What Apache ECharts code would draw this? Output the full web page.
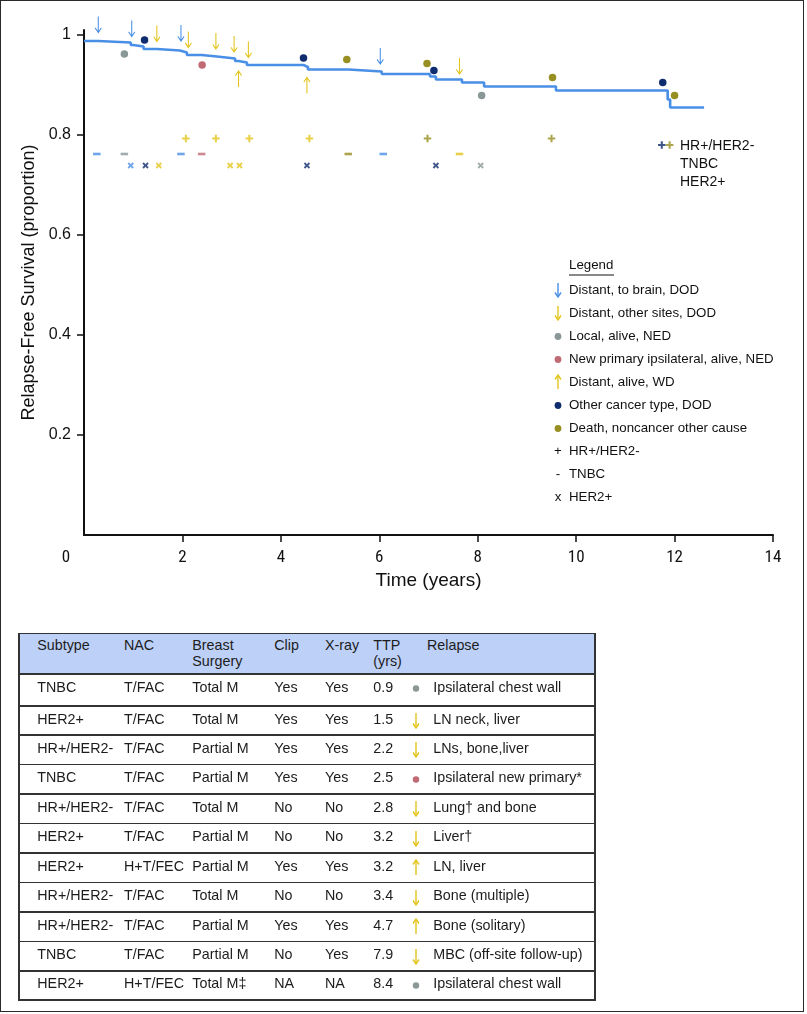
<!DOCTYPE html>
<html><head><meta charset="utf-8">
<script src="https://cdn.jsdelivr.net/npm/echarts@6/dist/echarts.min.js"></script>
<style>
html,body{margin:0;padding:0;background:#fff;}
#wrap{position:relative;width:807px;height:1014px;overflow:hidden;background:#fff;}
#chart{position:absolute;left:0;top:0;width:807px;height:1014px;}
#frame{position:absolute;left:0;top:0;width:802px;height:1010px;border:1.7px solid #2a2a2a;pointer-events:none;}
.c{position:absolute;font-family:'Liberation Sans',Arial,Helvetica,sans-serif;font-size:14.3px;color:#1c1c1c;white-space:nowrap;line-height:16px;}
.ln{position:absolute;background:#333;}
</style></head>
<body><div id="wrap"><div id="chart"></div><div id="tbl"></div><div id="frame"></div></div>
<script>
// ---------- data ----------
const kmTime = [0, 0.29, 0.95, 1.0, 1.21, 1.48, 1.95, 2.09, 2.39, 2.7, 3.07, 3.14, 3.31, 4.46, 4.55, 5.37, 6.05, 7.03, 7.15, 7.68, 8.13, 9.59, 11.86, 11.91, 12.6];
const kmSurv = [0.988, 0.985, 0.98, 0.977, 0.972, 0.969, 0.965, 0.96, 0.957, 0.953, 0.948, 0.945, 0.94, 0.936, 0.931, 0.927, 0.922, 0.917, 0.911, 0.905, 0.897, 0.889, 0.871, 0.855, 0.855];

const brainT = [0.29, 0.97, 1.97, 6.02];
const brainY = [1.02, 1.012, 1.003, 0.957];
const otherT = [1.48, 2.12, 2.68, 3.05, 3.34, 7.63];
const otherY = [1.002, 0.99, 0.987, 0.981, 0.97, 0.937];
const aliveT = [3.14, 4.53];
const aliveY = [0.913, 0.9];
const localT = [0.82, 8.08];
const localY = [0.962, 0.879];
const newprimT = [2.4];
const newprimY = [0.94];
const cancerT = [1.23, 4.46, 7.11, 11.76];
const cancerY = [0.99, 0.954, 0.929, 0.905];
const deathT = [5.34, 6.97, 9.52, 12.0];
const deathY = [0.951, 0.943, 0.915, 0.879];

// subtype marks (HR+/HER2- "+", TNBC "-", HER2+ "x"), coloured by event kind
const plusT = [2.07, 2.68, 3.36, 4.58, 6.98, 9.5, 11.74, 11.9];
const plusY = [0.793, 0.793, 0.793, 0.793, 0.793, 0.793, 0.78, 0.78];
const plusK = ['other', 'other', 'other', 'alive', 'death', 'death', 'cancer', 'death'];
const minusT = [0.26, 0.82, 1.97, 2.39, 5.37, 6.08, 7.63];
const minusY = [0.762, 0.762, 0.762, 0.762, 0.762, 0.762, 0.762];
const minusK = ['brain', 'local', 'brain', 'newprim', 'death', 'brain', 'other'];
const crossT = [0.95, 1.25, 1.52, 2.97, 3.16, 4.53, 7.15, 8.06];
const crossY = [0.739, 0.739, 0.739, 0.739, 0.739, 0.739, 0.739, 0.739];
const crossK = ['brain', 'cancer', 'other', 'other', 'alive', 'cancer', 'cancer', 'local'];

const xTicks = [0, 2, 4, 6, 8, 10, 12, 14];
const yTicks = [0.2, 0.4, 0.6, 0.8, 1.0];
const subtypeLabels = ['HR+/HER2-', 'TNBC', 'HER2+'];

const legendTitle = 'Legend';
const legendKinds = ['brain', 'other', 'local', 'newprim', 'alive', 'cancer', 'death', 'plus', 'minus', 'cross'];
const legendLabels = ['Distant, to brain, DOD', 'Distant, other sites, DOD', 'Local, alive, NED', 'New primary ipsilateral, alive, NED', 'Distant, alive, WD', 'Other cancer type, DOD', 'Death, noncancer other cause', 'HR+/HER2-', 'TNBC', 'HER2+'];

const tblHeader = ['Subtype', 'NAC', 'Breast\nSurgery', 'Clip', 'X-ray', 'TTP\n(yrs)', '', 'Relapse'];
const subtypeCol = ['TNBC', 'HER2+', 'HR+/HER2-', 'TNBC', 'HR+/HER2-', 'HER2+', 'HER2+', 'HR+/HER2-', 'HR+/HER2-', 'TNBC', 'HER2+'];
const nacCol = ['T/FAC', 'T/FAC', 'T/FAC', 'T/FAC', 'T/FAC', 'T/FAC', 'H+T/FEC', 'T/FAC', 'T/FAC', 'T/FAC', 'H+T/FEC'];
const surgeryCol = ['Total M', 'Total M', 'Partial M', 'Partial M', 'Total M', 'Partial M', 'Partial M', 'Total M', 'Partial M', 'Partial M', 'Total M\u2021'];
const clipCol = ['Yes', 'Yes', 'Yes', 'Yes', 'No', 'No', 'Yes', 'No', 'Yes', 'No', 'NA'];
const xrayCol = ['Yes', 'Yes', 'Yes', 'Yes', 'No', 'No', 'Yes', 'No', 'Yes', 'Yes', 'NA'];
const ttpCol = ['0.9', '1.5', '2.2', '2.5', '2.8', '3.2', '3.2', '3.4', '4.7', '7.9', '8.4'];
const relapseKind = ['local', 'other', 'other', 'newprim', 'other', 'other', 'alive', 'other', 'alive', 'other', 'local'];
const relapseCol = ['Ipsilateral chest wall', 'LN neck, liver', 'LNs, bone,liver', 'Ipsilateral new primary*', 'Lung\u2020 and bone', 'Liver\u2020', 'LN, liver', 'Bone (multiple)', 'Bone (solitary)', 'MBC (off-site follow-up)', 'Ipsilateral chest wall'];

// ---------- styles ----------
const COL = {brain: '#4a8fe6', other: '#e4c41c', alive: '#e4c41c', local: '#8a9797', newprim: '#c06a73', cancer: '#0f2c6e', death: '#978f22'};
const FONT = "'Liberation Sans', Arial, Helvetica, sans-serif";
const NARROW = "'Liberation Sans Narrow', 'Arial Narrow', 'Roboto Condensed', 'Liberation Sans', sans-serif";
const ARROW_DOWN = 'path://M3.4,0H4.6V14L7.2,10.8L8,11.6L4,16.8L0,11.6L0.8,10.8L3.4,14Z';
const PLUS = 'path://M2.9,0H5.1V2.9H8V5.1H5.1V8H2.9V5.1H0V2.9H2.9Z';

const zip = (a, b) => a.map((v, i) => [v, b[i]]);

function eventSeries(name, T, Y, kind, symbol, size, rotate) {
  return {
    name, type: 'scatter', clip: false, z: 5,
    data: zip(T, Y), symbol, symbolSize: size, symbolRotate: rotate || 0,
    itemStyle: {color: COL[kind], opacity: 1},
    silent: true
  };
}
function subtypeSeries(name, T, Y, K, symbol, size, rotate) {
  return {
    name, type: 'scatter', clip: false, z: 5,
    data: T.map((t, i) => ({value: [t, Y[i]], itemStyle: {color: COL[K[i]]}})),
    symbol, symbolSize: size, symbolRotate: rotate || 0, silent: true
  };
}

// ---------- legend graphics ----------
const graphic = [];
const LX = 558, LT = 569, LY0 = 290, LDY = 23;
graphic.push({type: 'text', left: LT, top: 259, style: {text: legendTitle, font: '13.3px ' + FONT, fill: '#111'}});
graphic.push({type: 'line', shape: {x1: LT, y1: 275, x2: LT + 45, y2: 275}, style: {stroke: '#111', lineWidth: 1}});
function arrowEls(x, yc, color, up) {
  const h = 14, y0 = yc - h / 2, y1 = yc + h / 2;
  const tip = up ? y0 : y1, dir = up ? 1 : -1;
  return [
    {type: 'line', shape: {x1: x, y1: y0, x2: x, y2: y1}, style: {stroke: color, lineWidth: 1.4}},
    {type: 'polyline', shape: {points: [[x - 3, tip + dir * 4.5], [x, tip], [x + 3, tip + dir * 4.5]]}, style: {stroke: color, lineWidth: 1.4, fill: null}}
  ];
}
legendKinds.forEach((k, i) => {
  const y = LY0 + i * LDY;
  if (k === 'brain' || k === 'other') graphic.push(...arrowEls(LX, y, COL[k], false));
  else if (k === 'alive') graphic.push(...arrowEls(LX, y, COL[k], true));
  else if (k === 'plus' || k === 'minus' || k === 'cross') {
    const ch = k === 'plus' ? '+' : (k === 'minus' ? '-' : 'x');
    graphic.push({type: 'text', x: LX, y: y, style: {text: ch, font: '13.3px ' + FONT, fill: '#111', align: 'center', verticalAlign: 'middle'}});
  } else graphic.push({type: 'circle', shape: {cx: LX, cy: y + 0.5, r: 3.4}, style: {fill: COL[k]}});
  graphic.push({type: 'text', x: LT, y: y, style: {text: legendLabels[i], font: '13.3px ' + FONT, fill: '#111', verticalAlign: 'middle'}});
});
subtypeLabels.forEach((s, i) => {
  graphic.push({type: 'text', x: 680, y: 146 + i * 18.2, style: {text: s, font: '14px ' + FONT, fill: '#111', verticalAlign: 'middle'}});
});

// ---------- chart ----------
const chart = echarts.init(document.getElementById('chart'));
chart.setOption({
  animation: false,
  backgroundColor: 'transparent',
  grid: {left: 84, right: 34, top: 30, bottom: 479, containLabel: false},
  xAxis: {
    type: 'value', min: 0, max: 14, interval: 2,
    name: 'Time (years)', nameLocation: 'middle', nameGap: 36,
    nameTextStyle: {fontFamily: FONT, fontSize: 19, color: '#111'},
    axisLine: {show: true, onZero: false, lineStyle: {color: '#111', width: 2}},
    axisTick: {show: true, length: 7, lineStyle: {color: '#111', width: 1.5}, customValues: [2, 4, 6, 8, 10, 12, 14]},
    axisLabel: {
      customValues: xTicks, margin: 14, fontFamily: NARROW, fontSize: 17, color: '#111',
      formatter: v => v === 0 ? '{z|0}' : String(v),
      rich: {z: {fontFamily: NARROW, fontSize: 17, color: '#111', padding: [0, 36, 0, 0]}}
    },
    splitLine: {show: false}
  },
  yAxis: {
    type: 'value', min: 0, max: 1.01,
    name: 'Relapse-Free Survival (proportion)', nameLocation: 'middle', nameGap: 36, nameRotate: 90,
    nameTextStyle: {fontFamily: FONT, fontSize: 18, color: '#111'},
    axisLine: {show: true, onZero: false, lineStyle: {color: '#111', width: 2}},
    axisTick: {show: true, length: 7, lineStyle: {color: '#111', width: 1.5}, customValues: yTicks},
    axisLabel: {
      customValues: yTicks, margin: 13, fontFamily: FONT, fontSize: 16, color: '#111',
      formatter: v => Math.abs(v - 1) < 1e-9 ? '1' : v.toFixed(1)
    },
    splitLine: {show: false}
  },
  graphic,
  series: [
    {name: 'KM', type: 'line', step: 'end', data: zip(kmTime, kmSurv), showSymbol: false, z: 3,
     lineStyle: {color: '#4a8fe6', width: 2.6}, silent: true},
    eventSeries('Distant, to brain, DOD', brainT, brainY, 'brain', ARROW_DOWN, [7, 17]),
    eventSeries('Distant, other sites, DOD', otherT, otherY, 'other', ARROW_DOWN, [7, 17]),
    eventSeries('Distant, alive, WD', aliveT, aliveY, 'alive', ARROW_DOWN, [7, 17], 180),
    eventSeries('Local, alive, NED', localT, localY, 'local', 'circle', 7.5),
    eventSeries('New primary ipsilateral, alive, NED', newprimT, newprimY, 'newprim', 'circle', 7.5),
    eventSeries('Other cancer type, DOD', cancerT, cancerY, 'cancer', 'circle', 7.5),
    eventSeries('Death, noncancer other cause', deathT, deathY, 'death', 'circle', 7.5),
    subtypeSeries('HR+/HER2-', plusT, plusY, plusK, PLUS, 7.5),
    subtypeSeries('TNBC', minusT, minusY, minusK, 'rect', [7.5, 2.6]),
    subtypeSeries('HER2+', crossT, crossY, crossK, PLUS, 7, 45)
  ]
});

// ---------- table ----------
const tbl = document.getElementById('tbl');
const TL = 18.3, TR = 594, TT = 632.7, HB = 673.3;
const rowTop = i => i === 0 ? HB : 705 + (i - 1) * 29.44;
const TB = rowTop(11);
const colX = [37.3, 124, 192.3, 274.3, 325, 373.3, 416, 427];
function div(cls, css, txt) {
  const d = document.createElement('div'); d.className = cls; Object.assign(d.style, css);
  if (txt !== undefined) d.textContent = txt; tbl.appendChild(d); return d;
}
div('ln', {left: TL + 'px', top: TT + 'px', width: (TR - TL) + 'px', height: (HB - TT) + 'px', background: '#bcd0f8'});
tblHeader.forEach((h, j) => {
  if (!h) return;
  div('c', {left: colX[j] + 'px', top: (TT + 5.5) + 'px', whiteSpace: 'pre', lineHeight: '15.7px'}, h);
});
const cols = [subtypeCol, nacCol, surgeryCol, clipCol, xrayCol, ttpCol];
for (let i = 0; i < subtypeCol.length; i++) {
  const top = rowTop(i);
  cols.forEach((c, j) => div('c', {left: colX[j] + 'px', top: (top + 5.5) + 'px'}, c[i]));
  div('c', {left: '433.3px', top: (top + 5.5) + 'px'}, relapseCol[i]);
  const k = relapseKind[i], cy = top + 15, cx = 416;
  const s = document.createElementNS('http://www.w3.org/2000/svg', 'svg');
  s.setAttribute('width', '12'); s.setAttribute('height', '20');
  Object.assign(s.style, {position: 'absolute', left: (cx - 6) + 'px', top: (cy - 10) + 'px'});
  if (k === 'local' || k === 'newprim') {
    s.innerHTML = `<circle cx="6" cy="10.5" r="3.2" fill="${COL[k]}"/>`;
  } else {
    const up = k === 'alive';
    const y0 = 3, y1 = 18, tip = up ? y0 : y1, d = up ? 4.5 : -4.5;
    s.innerHTML = `<line x1="6" y1="${y0}" x2="6" y2="${y1}" stroke="${COL[k]}" stroke-width="1.4"/>` +
      `<polyline points="3,${tip + d} 6,${tip} 9,${tip + d}" fill="none" stroke="${COL[k]}" stroke-width="1.4"/>`;
  }
  tbl.appendChild(s);
}
const LW = 1.6;
div('ln', {left: TL + 'px', top: TT + 'px', width: (TR - TL) + 'px', height: LW + 'px'});
div('ln', {left: TL + 'px', top: TB + 'px', width: (TR - TL + LW) + 'px', height: LW + 'px'});
div('ln', {left: TL + 'px', top: TT + 'px', width: LW + 'px', height: (TB - TT) + 'px'});
div('ln', {left: TR + 'px', top: TT + 'px', width: LW + 'px', height: (TB - TT) + 'px'});
for (let i = 0; i < subtypeCol.length; i++) {
  div('ln', {left: TL + 'px', top: rowTop(i) + 'px', width: (TR - TL) + 'px', height: LW + 'px'});
}
</script></body></html>
